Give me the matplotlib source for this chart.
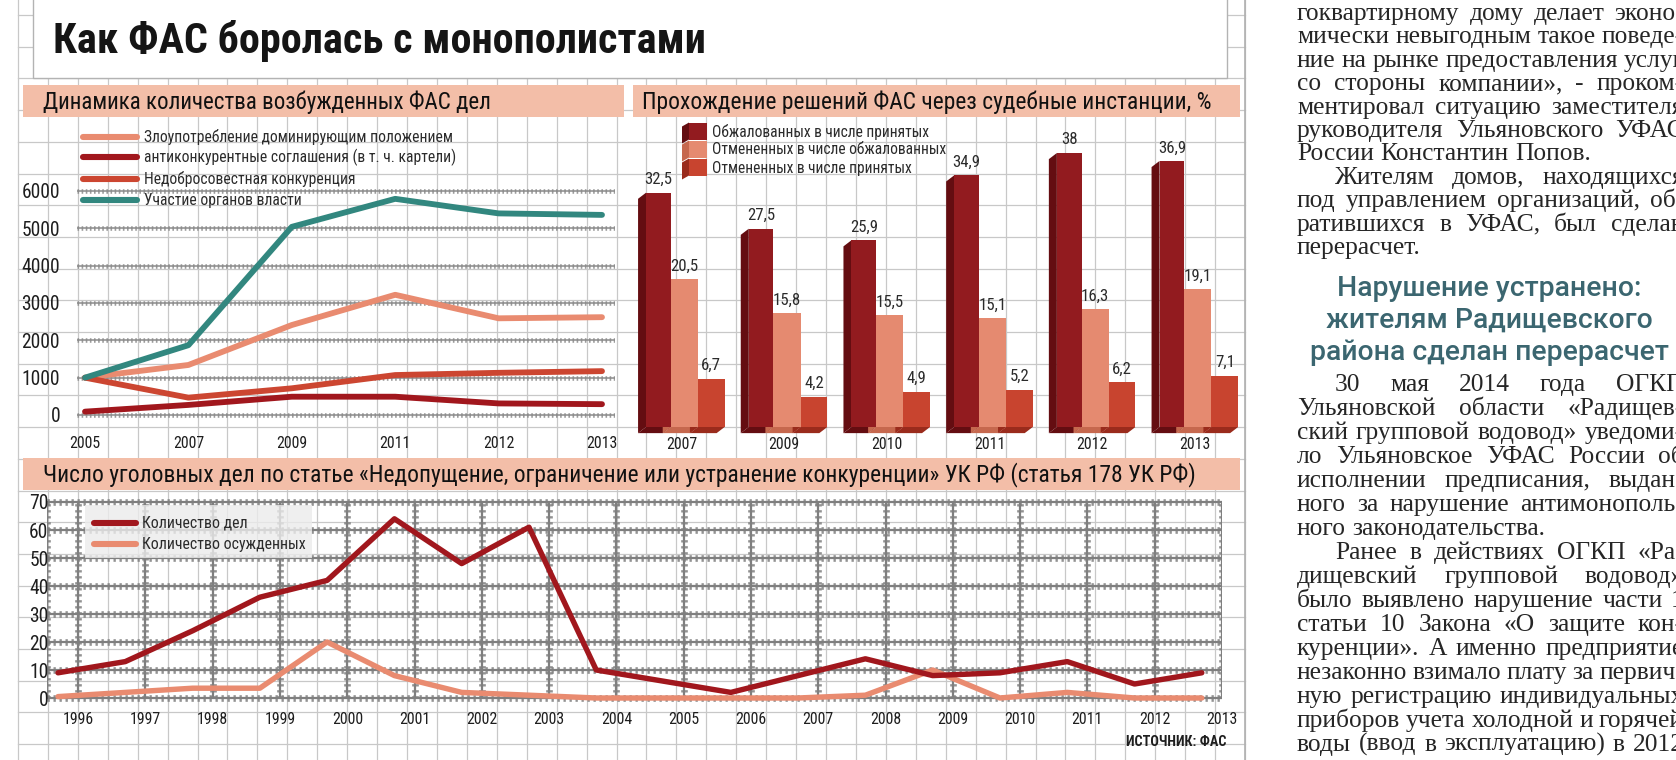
import matplotlib
matplotlib.use('Agg')
import matplotlib.pyplot as plt
from matplotlib import font_manager
from matplotlib.patches import Rectangle, Polygon
import numpy as np

W, H = 1676, 760

# --- Динамика количества возбужденных ФАС дел ---
years_top = ['2005', '2007', '2009', '2011', '2012', '2013']
abuse = [1000, 1340, 2410, 3220, 2590, 2620]
cartels = [90, 270, 490, 490, 310, 290]
unfair = [1000, 465, 715, 1070, 1130, 1175]
authorities = [1000, 1870, 5040, 5790, 5400, 5360]
top_labels = ['Злоупотребление доминирующим положением',
              'антиконкурентные соглашения (в т. ч. картели)',
              'Недобросовестная конкуренция',
              'Участие органов власти']

# --- Прохождение решений ФАС через судебные инстанции, % ---
court_years = ['2007', '2009', '2010', '2011', '2012', '2013']
appealed = [32.5, 27.5, 25.9, 34.9, 38, 36.9]
cancelled_appealed = [20.5, 15.8, 15.5, 15.1, 16.3, 19.1]
cancelled_adopted = [6.7, 4.2, 4.9, 5.2, 6.2, 7.1]
court_labels = ['Обжалованных в числе принятых',
                'Отмененных в числе обжалованных',
                'Отмененных в числе принятых']

# --- Число уголовных дел по статье 178 УК РФ ---
crime_years = ['1996', '1997', '1998', '1999', '2000', '2001', '2002', '2003', '2004',
               '2005', '2006', '2007', '2008', '2009', '2010', '2011', '2012', '2013']
cases = [9, 13, 24, 36, 42, 64, 48, 61, 10, 6, 2, 8, 14, 8, 9, 13, 5, 9]
convicted = [0.5, 2, 3.5, 3.5, 20, 8, 2, 1, 0, 0, 0, 0, 1, 10, 0, 2, 0, 0]
crime_labels = ['Количество дел', 'Количество осужденных']

# colours
C_TEAL = '#32877f'
C_SALMON = '#e98b70'
C_DARK = '#a1171d'
C_RED = '#cc4631'
BAR_FRONT = ['#921b1f', '#e58a70', '#c8442f']
BAR_SIDE = ['#640d11', '#c6684e', '#9a2b1c']
BAND = '#f3bea8'
GRID = '#c8c8c8'
RULER = '#8a8a8a'
INK = '#1e1e1e'

# pick the narrowest sans available, the original uses a condensed face
flist = font_manager.fontManager.ttflist
names = {f.name for f in flist}
NARROW, STRETCH = 'Roboto', 'normal'
for cand in ['Liberation Sans Narrow', 'Roboto Condensed', 'Noto Sans Condensed',
             'Noto Sans SemiCondensed', 'Open Sans Condensed', 'DejaVu Sans Condensed']:
    if cand in names:
        NARROW = cand
        break
else:
    for fam in ['Noto Sans', 'Open Sans', 'DejaVu Sans']:
        if any(f.name == fam and 'condensed' in str(f.stretch) for f in flist):
            NARROW, STRETCH = fam, 'condensed'
            break
if NARROW == 'Roboto' and 'Roboto' not in names:
    NARROW = 'Liberation Sans'
SERIF = 'Liberation Serif' if 'Liberation Serif' in names else 'DejaVu Serif'
HEAD = 'Roboto' if 'Roboto' in names else 'DejaVu Sans'

fig = plt.figure(figsize=(W / 100, H / 100), dpi=100)
fig.patch.set_facecolor('white')
renderer = fig.canvas.get_renderer()

# page layer in pixel coordinates (origin top left)
pg = fig.add_axes([0, 0, 1, 1])
pg.set_xlim(0, W)
pg.set_ylim(H, 0)
pg.axis('off')

NK = dict(family=NARROW, fontstretch=STRETCH)


def size_for(s, width, **kw):
    t = pg.text(0, 0, s, fontsize=10, **kw)
    w = t.get_window_extent(renderer).width
    t.remove()
    return 10 * width / w


def fitted(x, y, s, width, **kw):
    font = {k: kw[k] for k in ('family', 'weight', 'fontstretch') if k in kw}
    kw['fontsize'] = size_for(s, width, **font)
    return pg.text(x, y, s, **kw)


def axes_px(x0, x1, y0, y1):
    ax = fig.add_axes([x0 / W, 1 - y1 / H, (x1 - x0) / W, (y1 - y0) / H])
    ax.patch.set_alpha(0)
    for s in ax.spines.values():
        s.set_visible(False)
    ax.tick_params(length=0)
    return ax


def span(p0, v0, p1, v1, a, b):
    # limits so that value v0 lands on pixel p0 and v1 on pixel p1
    k = (v1 - v0) / (p1 - p0)
    return v0 + (a - p0) * k, v0 + (b - p0) * k


def ruler(ax, xs, ys, lw=1.0, col=RULER):
    # grey rule with small tick marks, like the printed gridlines
    ax.plot(xs, ys, color=col, lw=lw, zorder=1, solid_capstyle='butt')
    ax.plot(xs, ys, color=col, lw=lw * 3.0, ls=(0, (0.35, 0.55)), alpha=0.85, zorder=1)


# graph paper background
for x in np.linspace(18, 1245, 42):
    pg.plot([x, x], [0, H], color=GRID, lw=0.9, zorder=0)
for y in np.arange(15, H, 31.7):
    pg.plot([18, 1245], [y, y], color=GRID, lw=0.9, zorder=0)
pg.plot([1245, 1245], [0, H], color='#b0b0b0', lw=1.2, zorder=0)

# title box
pg.add_patch(Rectangle((33, -5), 1194, 83, fc='white', ec='#b3b3b3', lw=1.0, zorder=1))
fitted(53, 53, 'Как ФАС боролась с монополистами', 652, weight='bold',
       color='#151515', va='baseline', zorder=3, **NK)

# pink section bands
pg.add_patch(Rectangle((23, 85), 601, 32, fc=BAND, ec='none', zorder=1))
pg.add_patch(Rectangle((633, 85), 607, 32, fc=BAND, ec='none', zorder=1))
pg.add_patch(Rectangle((23, 458), 1217, 32, fc=BAND, ec='none', zorder=1))
fitted(43, 109, 'Динамика количества возбужденных ФАС дел', 447,
       color='#111111', va='baseline', zorder=3, **NK)
fitted(642, 109, 'Прохождение решений ФАС через судебные инстанции, %', 568,
       color='#111111', va='baseline', zorder=3, **NK)
fitted(43, 481, 'Число уголовных дел по статье «Недопущение, ограничение или устранение '
       'конкуренции» УК РФ (статья 178 УК РФ)', 1152,
       color='#111111', va='baseline', zorder=3, **NK)

tick_size = size_for('6000', 38, **NK)
xlab_size = size_for('2005', 31, **NK)
val_size = size_for('32,5', 28, **NK)

# ---------------- line chart: cases opened ----------------
ax1 = axes_px(60, 615, 120, 432)
ax1.set_xlim(span(85, 0, 602, 5, 60, 615))
ax1.set_ylim(span(415, 0, 191, 6000, 432, 120))
xt = np.arange(len(years_top))
for v in range(0, 7000, 1000):
    ruler(ax1, [-0.08, 5.13], [v, v], lw=1.1)
series = [(abuse, C_SALMON), (cartels, C_DARK), (unfair, C_RED), (authorities, C_TEAL)]
for vals, col in series:
    ax1.plot(xt, vals, color=col, lw=4.2, solid_joinstyle='round', solid_capstyle='round', zorder=4)
ax1.set_yticks(range(0, 7000, 1000))
ax1.set_yticklabels([str(v) for v in range(0, 7000, 1000)], fontsize=tick_size, color=INK, **NK)
ax1.set_xticks(xt)
ax1.set_xticklabels(years_top, fontsize=xlab_size, color=INK, **NK)
ax1.tick_params(axis='y', pad=0)
ax1.tick_params(axis='x', pad=3)
leg_size = size_for(top_labels[0], 309, **NK)
for (vals, col), lab, yy in zip(series, top_labels, [137, 157, 179, 200]):
    ax1.plot([83, 137], [yy, yy], color=col, lw=4.4, solid_capstyle='round',
             transform=pg.transData, clip_on=False, zorder=5)
    ax1.text(144, yy, lab, fontsize=leg_size, color='#2b2b2b', va='center',
             transform=pg.transData, zorder=5, **NK)

# ---------------- 3D-looking bars: court decisions ----------------
ax2 = axes_px(626, 1245, 120, 436)
ax2.set_xlim(span(681.5, 0, 1195, 5, 626, 1245))
ax2.set_ylim(span(427, 0, 153, 38, 436, 120))
edges = np.array([-0.345, -0.105, 0.16, 0.42])
d, e = 0.078, 0.85
groups = [appealed, cancelled_appealed, cancelled_adopted]
for i in range(len(court_years)):
    for k, vals in enumerate(groups):
        x0 = i + edges[k]
        x1 = i + edges[k + 1]
        v = vals[i]
        ax2.add_patch(Polygon([(x0, 0), (x1, 0), (x1 - d, -e), (x0 - d, -e)],
                              fc=BAR_SIDE[k], ec='none', zorder=2))
        ax2.add_patch(Polygon([(x0 - d, -e), (x0, 0), (x0, v), (x0 - d, v - e)],
                              fc=BAR_SIDE[k], ec='none', zorder=2))
for i in range(len(court_years)):
    for k, vals in enumerate(groups):
        x0 = i + edges[k]
        x1 = i + edges[k + 1]
        v = vals[i]
        ax2.add_patch(Rectangle((x0, 0), x1 - x0, v, fc=BAR_FRONT[k], ec='none', zorder=3))
        ax2.annotate('{:g}'.format(v).replace('.', ','), ((x0 + x1) / 2, v), xytext=(0, 4),
                     textcoords='offset points', ha='center', va='bottom',
                     fontsize=val_size, color='#2b2b2b', zorder=4, **NK)
ax2.set_xticks(np.arange(len(court_years)))
ax2.set_xticklabels(court_years, fontsize=xlab_size, color=INK, **NK)
ax2.set_yticks([])
ax2.tick_params(axis='x', pad=1)

# legend of the bars
cleg_size = size_for(court_labels[1], 235, **NK)
for k, cy in enumerate([131, 149, 167]):
    pg.add_patch(Polygon([(682, cy - 8.5 + 4), (689, cy - 8.5), (689, cy + 8.5), (682, cy + 8.5 + 4)],
                         fc=BAR_SIDE[k], ec='none', zorder=2))
for k, (cy, ty) in enumerate(zip([131, 149, 167], [132, 150, 169])):
    pg.add_patch(Rectangle((689, cy - 8.5), 18, 17, fc=BAR_FRONT[k], ec='none', zorder=3))
    pg.text(712, ty, court_labels[k], fontsize=cleg_size, color='#2b2b2b',
            va='center', zorder=4, **NK)

# ---------------- criminal cases line chart ----------------
ax3 = axes_px(47, 1222, 495, 705)
ax3.set_xlim(span(58, 0, 1202, 17, 47, 1222))
ax3.set_ylim(span(698, 0, 502, 70, 705, 495))
xi = np.arange(len(crime_years))
xl = ax3.get_xlim()
for v in range(0, 80, 10):
    ruler(ax3, list(xl), [v, v], lw=1.6, col='#7f7f7f')
for x in list(xi + 0.3) + [xl[0]]:
    ruler(ax3, [x, x], [0, 70], lw=1.6, col='#7f7f7f')
ax3.add_patch(Rectangle((85, 505), 227, 53, fc='#ececec', ec='none', alpha=0.8,
                        transform=pg.transData, zorder=3))
ax3.plot(xi, convicted, color=C_SALMON, lw=3.9, solid_joinstyle='round', solid_capstyle='round', zorder=4)
ax3.plot(xi, cases, color=C_DARK, lw=3.9, solid_joinstyle='round', solid_capstyle='round', zorder=5)
ax3.set_yticks(range(0, 80, 10))
ax3.set_yticklabels([str(v) for v in range(0, 80, 10)], fontsize=tick_size, color=INK, **NK)
ax3.set_xticks(xi + 0.3)
ax3.set_xticklabels(crime_years, fontsize=xlab_size, color=INK, **NK)
ax3.tick_params(axis='y', pad=-1)
ax3.tick_params(axis='x', pad=5)
bleg_size = size_for(crime_labels[1], 164, **NK)
for lab, col, yy in zip(crime_labels, [C_DARK, C_SALMON], [523, 544]):
    ax3.plot([94, 136], [yy, yy], color=col, lw=4.4, solid_capstyle='round',
             transform=pg.transData, clip_on=False, zorder=6)
    ax3.text(142, yy, lab, fontsize=bleg_size, color='#2b2b2b', va='center',
             transform=pg.transData, zorder=6, **NK)
fitted(1226, 742, 'ИСТОЧНИК: ФАС', 100, weight='bold', color=INK,
       ha='right', va='center', zorder=3, **NK)

# ---------------- newspaper column on the right ----------------
body_size = size_for('России Константин Попов.', 295, family=SERIF)


def justify(s, y, x0=1297, x1=1684, indent=0, last=False):
    words = s.split()
    ts = [pg.text(0, y, w, family=SERIF, fontsize=body_size, color='#262626', va='baseline')
          for w in words]
    widths = [t.get_window_extent(renderer).width for t in ts]
    space = body_size * 0.25 * 100 / 72
    if last or len(ts) == 1:
        gap = space
    else:
        gap = max((x1 - x0 - indent - sum(widths)) / (len(ts) - 1), space * 0.5)
    x = x0 + indent
    for t, w in zip(ts, widths):
        t.set_x(x)
        x += w + gap


col1 = [('гоквартирному дому делает эконо-', 0, False),
        ('мически невыгодным такое поведе-', 0, False),
        ('ние на рынке предоставления услуг', 0, False),
        ('со стороны компании», - проком-', 0, False),
        ('ментировал ситуацию заместителя', 0, False),
        ('руководителя Ульяновского УФАС', 0, False),
        ('России Константин Попов.', 0, True),
        ('Жителям домов, находящихся', 38, False),
        ('под управлением организаций, об-', 0, False),
        ('ратившихся в УФАС, был сделан', 0, False),
        ('перерасчет.', 0, True)]
for j, (s, ind, last) in enumerate(col1):
    justify(s, 14 + 23.4 * j + 6, indent=ind, last=last)

head_size = size_for('района сделан перерасчет', 357, family=HEAD, weight='medium')
for j, s in enumerate(['Нарушение устранено:', 'жителям Радищевского', 'района сделан перерасчет']):
    pg.text(1489, 288 + 32 * j + 8, s, family=HEAD, weight='medium', fontsize=head_size,
            color='#3b6670', ha='center', va='baseline')

col2 = [('30 мая 2014 года ОГКП', 38, False),
        ('Ульяновской области «Радищев-', 0, False),
        ('ский групповой водовод» уведоми-', 0, False),
        ('ло Ульяновское УФАС России об', 0, False),
        ('исполнении предписания, выдан-', 0, False),
        ('ного за нарушение антимонополь-', 0, False),
        ('ного законодательства.', 0, True),
        ('Ранее в действиях ОГКП «Ра-', 38, False),
        ('дищевский групповой водовод»', 0, False),
        ('было выявлено нарушение части 1', 0, False),
        ('статьи 10 Закона «О защите кон-', 0, False),
        ('куренции». А именно предприятие', 0, False),
        ('незаконно взимало плату за первич-', 0, False),
        ('ную регистрацию индивидуальных', 0, False),
        ('приборов учета холодной и горячей', 0, False),
        ('воды (ввод в эксплуатацию) в 2012', 0, False)]
for j, (s, ind, last) in enumerate(col2):
    justify(s, 385 + 24 * j + 6, indent=ind, last=last)

fig.savefig('out.png', dpi=100, facecolor='white')
